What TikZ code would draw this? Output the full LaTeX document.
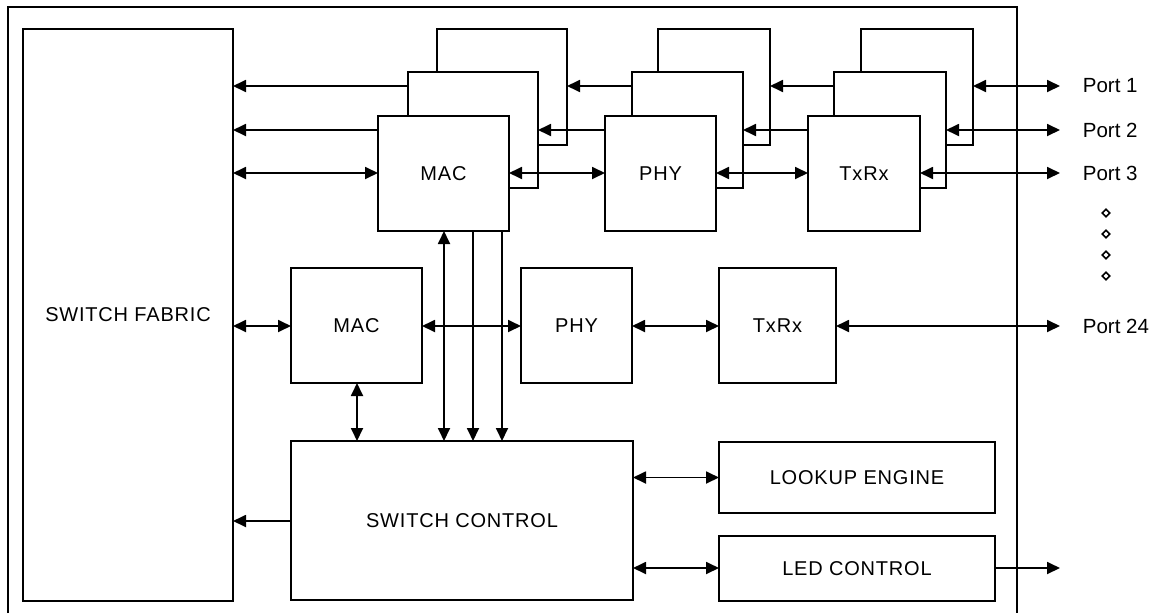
\documentclass[tikz,border=0pt]{standalone}
\usepackage{fontspec}
\setmainfont{Liberation Sans}
\newfontfamily\lsp{Liberation Sans}[LetterSpace=4]
\usetikzlibrary{arrows.meta,shapes.geometric}
\begin{document}
\begin{tikzpicture}[x=1pt,y=-1pt,line width=1.8pt,
  >={Triangle[length=13pt,width=12pt]},
  blk/.style={draw,inner sep=0pt,outer sep=0pt,font=\lsp\fontsize{20}{23}\selectfont},
  hid/.style={inner sep=0pt,outer sep=0pt},
  portlbl/.style={anchor=west,inner sep=0pt,font=\fontsize{20.5}{24}\selectfont},
  dot/.style={diamond,draw,line width=1.6pt,inner sep=0pt,minimum size=8pt}]
\useasboundingbox (0,0) rectangle (1153,613);
% outer frame
\draw (8,613) -- (8,7) -- (1017,7) -- (1017,613);
% row coordinates
\coordinate (r1) at (0,86);
\coordinate (r2) at (0,130);
\coordinate (r3) at (0,173);
\coordinate (r4) at (0,326);
\coordinate (rsc) at (0,521);
\coordinate (rlu) at (0,477.5);
\coordinate (rled) at (0,568);
\coordinate (v0) at (357,0);
\coordinate (v1) at (444,0);
\coordinate (v2) at (473,0);
\coordinate (v3) at (502,0);
\coordinate (p1) at (1060,86);
\coordinate (p2) at (1060,130);
\coordinate (p3) at (1060,173);
\coordinate (p24) at (1060,326);
\coordinate (pled) at (1060,568);
% blocks
\node[blk,minimum width=210pt,minimum height=572pt] (SF) at (128,315) {SWITCH FABRIC};
\node[blk,minimum width=131pt,minimum height=115pt] (MACf) at (443.5,173.5) {MAC};
\node[hid,minimum width=130pt,minimum height=116pt] (MACm) at (473,130) {};
\node[hid,minimum width=130pt,minimum height=116pt] (MACb) at (502,87) {};
\node[blk,minimum width=111pt,minimum height=115pt] (PHYf) at (660.5,173.5) {PHY};
\node[hid,minimum width=111pt,minimum height=116pt] (PHYm) at (687.5,130) {};
\node[hid,minimum width=112pt,minimum height=116pt] (PHYb) at (714,87) {};
\node[blk,minimum width=112pt,minimum height=115pt] (TXf) at (864,173.5) {TxRx};
\node[hid,minimum width=112pt,minimum height=116pt] (TXm) at (890,130) {};
\node[hid,minimum width=112pt,minimum height=116pt] (TXb) at (917,87) {};
% visible parts of stacked boxes
\foreach \f/\m/\b in {MACf/MACm/MACb,PHYf/PHYm/PHYb,TXf/TXm/TXb}{
  \draw (\m.west |- \f.north) -- (\m.north west) -- (\m.north east) -- (\m.south east) -- (\f.east |- \m.south);
  \draw (\b.west |- \m.north) -- (\b.north west) -- (\b.north east) -- (\b.south east) -- (\m.east |- \b.south);
}
\node[blk,minimum width=131pt,minimum height=115pt] (MAC2) at (356.5,325.5) {MAC};
\node[blk,minimum width=111pt,minimum height=115pt] (PHY2) at (576.5,325.5) {PHY};
\node[blk,minimum width=117pt,minimum height=115pt] (TX2) at (777.5,325.5) {TxRx};
\node[blk,minimum width=342pt,minimum height=159pt] (SC) at (462,520.5) {SWITCH CONTROL};
\node[blk,minimum width=276pt,minimum height=71pt] (LU) at (857,477.5) {LOOKUP ENGINE};
\node[blk,minimum width=276pt,minimum height=65pt] (LED) at (857,568.5) {LED CONTROL};
% top rows
\draw[->] (MACm.west |- r1) -- (SF.east |- r1);
\draw[->] (MACf.west |- r2) -- (SF.east |- r2);
\draw[<->] (SF.east |- r3) -- (MACf.west |- r3);
\draw[->] (PHYm.west |- r1) -- (MACb.east |- r1);
\draw[->] (PHYf.west |- r2) -- (MACm.east |- r2);
\draw[<->] (MACf.east |- r3) -- (PHYf.west |- r3);
\draw[->] (TXm.west |- r1) -- (PHYb.east |- r1);
\draw[->] (TXf.west |- r2) -- (PHYm.east |- r2);
\draw[<->] (PHYf.east |- r3) -- (TXf.west |- r3);
\draw[<->] (TXb.east |- r1) -- (p1);
\draw[<->] (TXm.east |- r2) -- (p2);
\draw[<->] (TXf.east |- r3) -- (p3);
% second row
\draw[<->] (SF.east |- r4) -- (MAC2.west |- r4);
\draw[<->] (MAC2.east |- r4) -- (PHY2.west |- r4);
\draw[<->] (PHY2.east |- r4) -- (TX2.west |- r4);
\draw[<->] (TX2.east |- r4) -- (p24);
% verticals
\draw[<->] (MACf.south -| v1) -- (SC.north -| v1);
\draw[->] (MACf.south -| v2) -- (SC.north -| v2);
\draw[->] (MACf.south -| v3) -- (SC.north -| v3);
\draw[<->] (MAC2.south -| v0) -- (SC.north -| v0);
% switch control
\draw[->] (SC.west |- rsc) -- (SF.east |- rsc);
\draw[<->] (SC.east |- rlu) -- (LU.west |- rlu);
\draw[<->] (SC.east |- rled) -- (LED.west |- rled);
\draw[->] (LED.east |- rled) -- (pled);
% port labels
\node[portlbl] (lp1) at (1082,86) {Port 1};
\node[portlbl] (lp2) at (1082,130) {Port 2};
\node[portlbl] (lp3) at (1082,173) {Port 3};
\node[portlbl] (lp24) at (1082,326) {Port 24};
\node[dot] (d1) at (1106,213) {};
\node[dot] (d2) at (1106,234) {};
\node[dot] (d3) at (1106,255) {};
\node[dot] (d4) at (1106,276) {};
\end{tikzpicture}
\end{document}
